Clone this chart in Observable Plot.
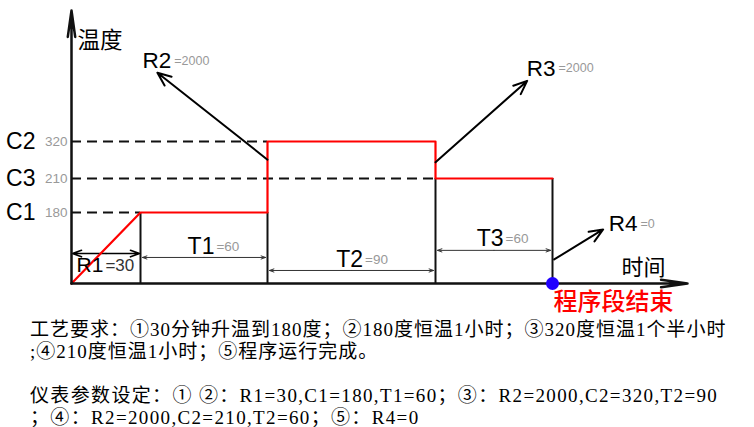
<!DOCTYPE html>
<html><head><meta charset="utf-8">
<script src="https://cdn.jsdelivr.net/npm/d3@7"></script>
<script src="https://cdn.jsdelivr.net/npm/@observablehq/plot@0.6"></script>
<style>
body{margin:0;background:#fff;width:754px;height:427px;overflow:hidden}
#chart svg{display:block}
#notes{font-family:"Liberation Serif","Noto Sans CJK SC",serif;font-size:19px;line-height:22px;padding-left:30px;color:#000;margin-top:7px;letter-spacing:1px}
#notes div{white-space:nowrap;height:22px}
#notes div.params{letter-spacing:1.35px}
</style></head><body>
<div id="chart"></div>
<div id="notes"></div>
<script>
// ---- data ----
const profileTime = [0, 30, 90, 90, 180, 180, 240];
const profileTemp = [0, 180, 180, 320, 320, 210, 210];
const levelNames = ["C2", "C3", "C1"];
const levelValues = [320, 210, 180];
const levelEnds = [90, 180, 30];
const stepEdges = [30, 90, 180, 240];
const stepTops = [180, 180, 210, 210];
const spanNames = ["R1", "T1", "T2", "T3"];
const spanValues = ["=30", "=60", "=90", "=60"];
const spanStart = [0, 30, 90, 180];
const spanEnd = [30, 90, 180, 240];
const spanLevel = [76, 66, 33, 84];
const spanLabelX = [14.3, 65.4, 141.7, 215.4];
const spanLabelY = [45.6, 93.8, 60.9, 114];
const rateNames = ["R2", "R3", "R4"];
const rateValues = ["=2000", "=2000", "=0"];
const rateFromX = [90, 180, 241];
const rateFromY = [266, 258, 61];
const rateToX = [38, 227, 270];
const rateToY = [362, 357, 137];
const rateLabelX = [45, 242.4, 291];
const rateLabelY = [369, 364.6, 152];
const axisTimeEnd = 320;
const axisTempEnd = 400;
const yAxisTitle = "温度";
const xAxisTitle = "时间";
const endLabel = "程序段结束";
const endTime = 240;
const notesLines = [
  "工艺要求：①30分钟升温到180度；②180度恒温1小时；③320度恒温1个半小时",
  ";④210度恒温1小时；⑤程序运行完成。",
  "",
  "仪表参数设定：① ②：R1=30,C1=180,T1=60；③：R2=2000,C2=320,T2=90",
  "；④：R2=2000,C2=210,T2=60；⑤：R4=0"
];

// ---- derived tables ----
const profile = profileTime.map((t, i) => ({t, v: profileTemp[i]}));
const levels = levelNames.map((n, i) => ({n, v: levelValues[i], end: levelEnds[i]}));
const edges = stepEdges.map((t, i) => ({t, top: stepTops[i]}));
const spans = spanNames.map((n, i) => ({n, val: spanValues[i], a: spanStart[i], b: spanEnd[i], y: spanLevel[i], lx: spanLabelX[i], ly: spanLabelY[i]}));
const halfArrows = spans.flatMap(s => [
  {n: s.n, x1: (s.a + s.b) / 2, x2: s.a, y: s.y},
  {n: s.n, x1: (s.a + s.b) / 2, x2: s.b, y: s.y}
]);
const rates = rateNames.map((n, i) => ({n, val: rateValues[i], x1: rateFromX[i], y1: rateFromY[i], x2: rateToX[i], y2: rateToY[i], lx: rateLabelX[i], ly: rateLabelY[i]}));

// schematic (non-proportional) spacing of the original diagram
const timeWarp = d3.scaleLinear([0, 30, 90, 180, 240, 320], [71, 140, 267, 435, 552, 687]);
const tempWarp = d3.scaleLinear([0, 180, 210, 320, 400], [283, 212, 178, 141, 10]);

const SANS = "'Liberation Sans', Arial, sans-serif";
const CJK = "'Noto Sans CJK SC', sans-serif";

const chart = Plot.plot({
  width: 754, height: 312, margin: 0,
  x: {type: "linear", domain: [0, 754], range: [0, 754], transform: timeWarp, axis: null},
  y: {type: "linear", domain: [0, 312], range: [0, 312], transform: tempWarp, axis: null},
  style: {background: "white", overflow: "visible"},
  marks: [
    Plot.ruleY(levels, {y: "v", x1: 0, x2: "end", stroke: "#111", strokeWidth: 2, strokeDasharray: "10,6"}),
    Plot.ruleX(edges, {x: "t", y1: 0, y2: "top", stroke: "#111", strokeWidth: 2}),
    Plot.arrow(halfArrows.filter(d => d.n !== "R1"), {x1: "x1", x2: "x2", y1: "y", y2: "y", stroke: "#333", strokeWidth: 1, headLength: 7, headAngle: 40, insetEnd: 2}),
    Plot.arrow(halfArrows.filter(d => d.n === "R1"), {x1: "x1", x2: "x2", y1: "y", y2: "y", stroke: "#000", strokeWidth: 1.6, headLength: 9, headAngle: 40, insetEnd: 1}),
    Plot.line(profile, {x: "t", y: "v", stroke: "#ff0000", strokeWidth: 2.2}),
    Plot.arrow(rates, {x1: "x1", y1: "y1", x2: "x2", y2: "y2", stroke: "#000", strokeWidth: 2, headLength: 11, headAngle: 45}),
    Plot.arrow([0], {x1: 0, y1: 0, x2: 0, y2: axisTempEnd, stroke: "#111", strokeWidth: 2.5, headLength: 16, headAngle: 16}),
    Plot.arrow([0], {x1: 0, y1: 0, x2: axisTimeEnd, y2: 0, stroke: "#111", strokeWidth: 2.5, headLength: 16, headAngle: 16}),
    Plot.dot([endTime], {x: d => d, y: 0, r: 6.5, fill: "#2000ff", stroke: "none"}),
    Plot.text(levels, {x: 0, y: "v", text: "n", textAnchor: "end", dx: -36, fontSize: 23, fontFamily: SANS, fill: "#000"}),
    Plot.text(levels, {x: 0, y: "v", text: d => String(d.v), textAnchor: "end", dx: -4, fontSize: 13.5, fontFamily: SANS, fill: "#999"}),
    Plot.text(spans, {x: "lx", y: "ly", text: "n", textAnchor: "end", dx: -1, fontSize: d => d.n === "R1" ? 21 : 23, fontFamily: SANS, fill: "#000"}),
    Plot.text(spans.filter(d => d.n !== "R1"), {x: "lx", y: "ly", text: "val", textAnchor: "start", dx: 1, fontSize: 13.5, fontFamily: SANS, fill: "#999"}),
    Plot.text(spans.filter(d => d.n === "R1"), {x: "lx", y: "ly", text: "val", textAnchor: "start", dx: 1, fontSize: 17, fontFamily: SANS, fill: "#333"}),
    Plot.text(rates, {x: "lx", y: "ly", text: "n", textAnchor: "end", dx: -1, fontSize: 22.5, fontFamily: SANS, fill: "#000"}),
    Plot.text(rates, {x: "lx", y: "ly", text: "val", textAnchor: "start", dx: 2, fontSize: 12.5, fontFamily: SANS, fill: "#999"}),
    Plot.text([yAxisTitle], {x: 0, y: axisTempEnd, text: d => d, textAnchor: "start", dx: 6, dy: 30, fontSize: 22.5, fontFamily: CJK, fill: "#000"}),
    Plot.text([xAxisTitle], {x: axisTimeEnd, y: 0, text: d => d, textAnchor: "end", dx: -22, dy: -16, fontSize: 22, fontFamily: CJK, fill: "#000"}),
    Plot.text([endLabel], {x: endTime, y: 0, text: d => d, textAnchor: "start", dx: 1, dy: 19, fontSize: 24, fontWeight: 500, fontFamily: CJK, fill: "#ff0000"})
  ]
});
document.getElementById("chart").appendChild(chart);
const notes = document.getElementById("notes");
notesLines.forEach((line, i) => {
  const div = document.createElement("div");
  div.textContent = line;
  if (i >= 3) div.className = "params";
  notes.appendChild(div);
});
</script>
</body></html>
